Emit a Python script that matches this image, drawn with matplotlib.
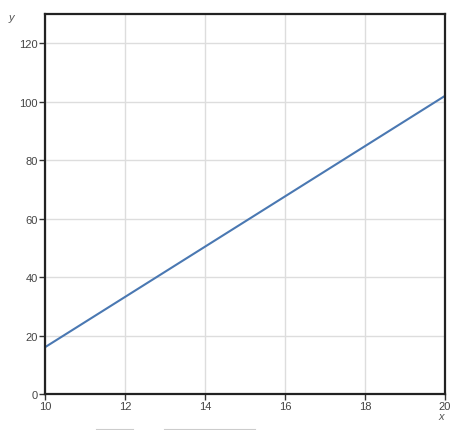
import numpy as np
import matplotlib
matplotlib.use('Agg')
from matplotlib import pyplot as plt
from matplotlib.lines import Line2D

x_vals = [10, 20]
y_vals = [16, 102]
x_ticks = [10, 12, 14, 16, 18, 20]
y_ticks = [0, 20, 40, 60, 80, 100, 120]

plt.rcParams['font.family'] = ['Liberation Sans', 'DejaVu Sans']

W, H = 462, 431
fig = plt.figure(figsize=(W / 100, H / 100), dpi=100)
ax = fig.add_axes([45 / W, (H - 395) / H, 400 / W, 380 / H])

ax.plot(x_vals, y_vals, color='#4a78b2', linewidth=1.5, solid_capstyle='butt')

ax.set_xlim(10, 20)
ax.set_ylim(0, 130)
ax.set_xticks(x_ticks)
ax.set_yticks(y_ticks)
ax.grid(True, color='#dddddd', linewidth=1.0)
ax.set_axisbelow(True)

for s in ax.spines.values():
    s.set_color('#222222')
    s.set_linewidth(1.6)
ax.tick_params(length=4, width=1, color='#333333', labelcolor='#444444',
               labelsize=8, pad=1)

fig.text(11 / W, 1 - 18 / H, 'y', style='italic', color='#555555', fontsize=8,
         ha='center', va='center')
fig.text(441 / W, 1 - 417 / H, 'x', style='italic', color='#555555', fontsize=8,
         ha='center', va='center')

# cut-off widgets at the bottom edge
for x0, x1 in [(97, 133), (165, 255)]:
    fig.add_artist(Line2D([x0 / W, x1 / W], [0.5 / H, 0.5 / H], color='#cccccc',
                          linewidth=1.5, transform=fig.transFigure))

fig.savefig('out.png', dpi=100)
